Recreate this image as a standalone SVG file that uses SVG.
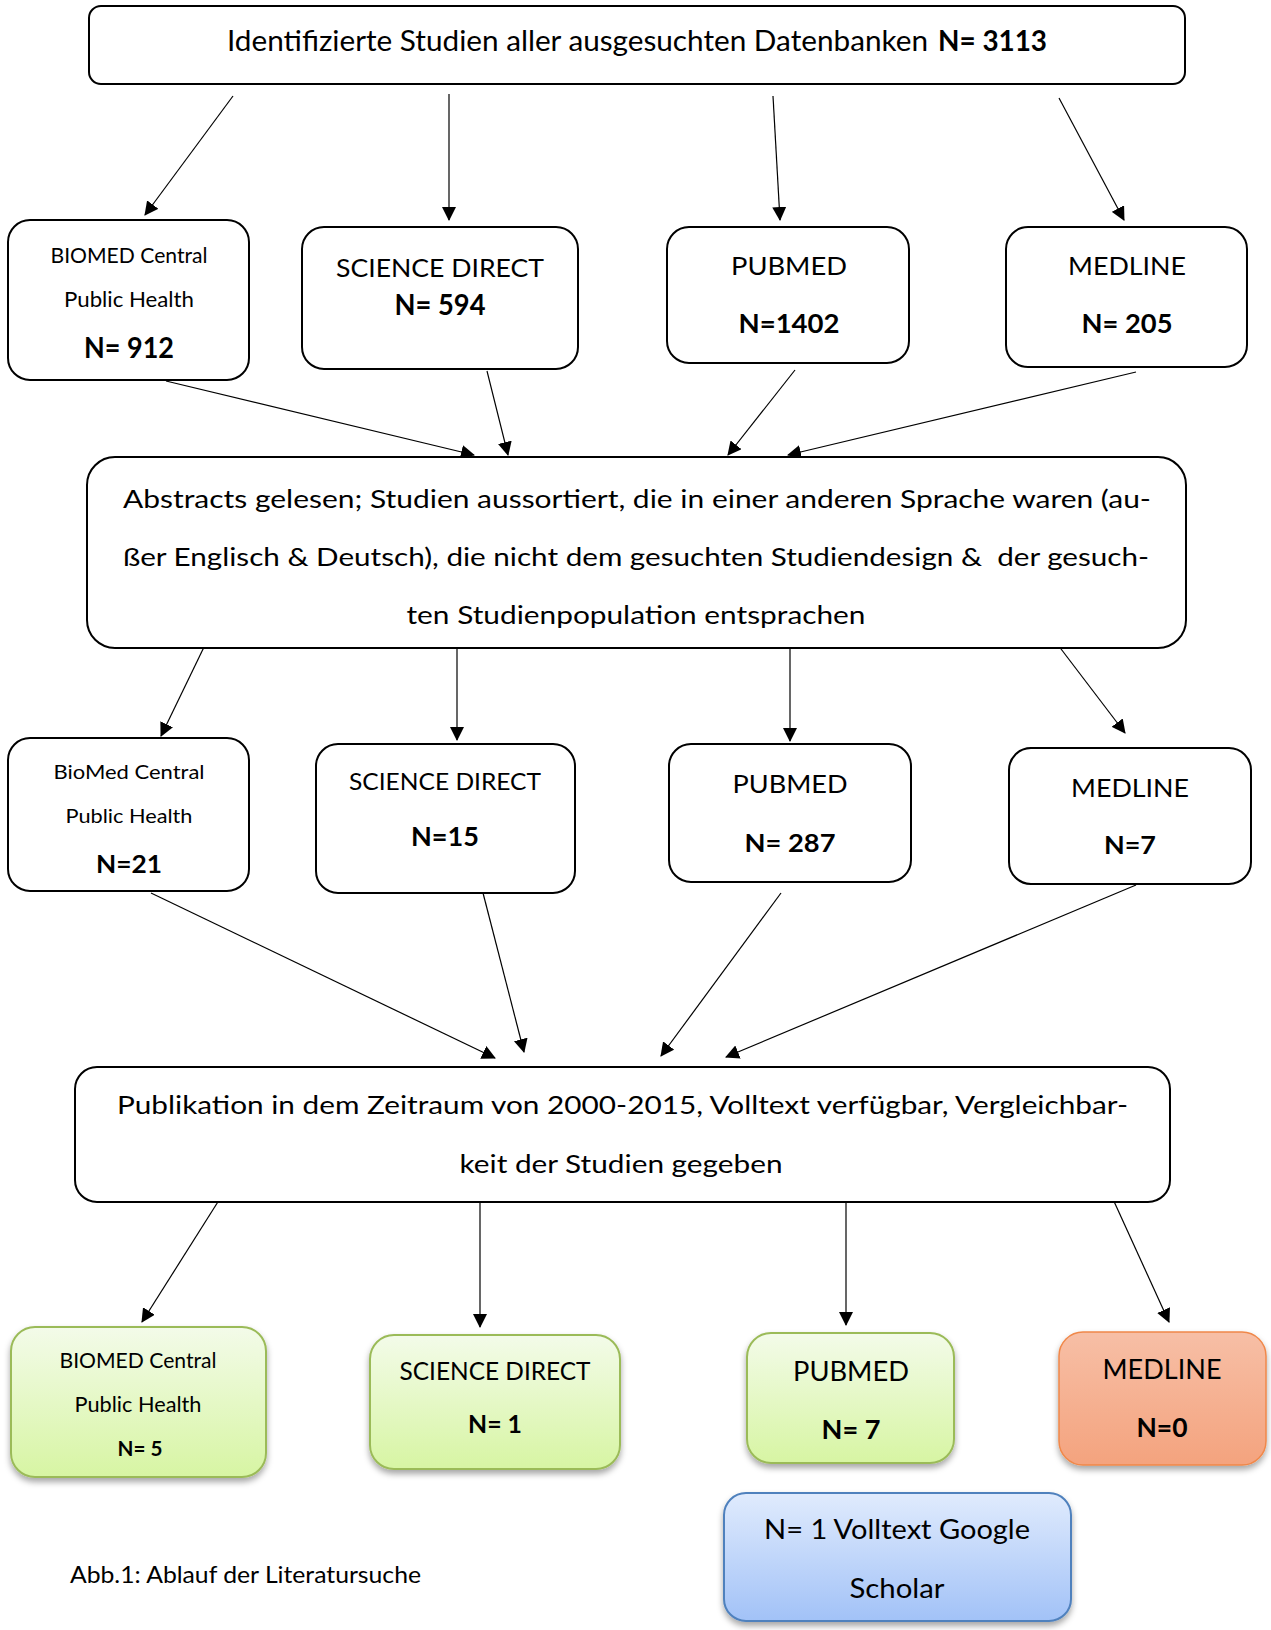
<svg xmlns="http://www.w3.org/2000/svg" width="1271" height="1630" viewBox="0 0 1271 1630">
<style>
text{font-family:Lato,"Liberation Sans",sans-serif;fill:#000;text-anchor:middle}
.b{font-weight:bold}
.l{text-anchor:start}
.pre{white-space:pre}
.box{fill:#fff;stroke:#000;stroke-width:2}
.con line{stroke:#000;stroke-width:1.2;marker-end:url(#ah)}
.g{fill:url(#gg);stroke:#9bbb59;stroke-width:2;filter:url(#sh)}
.o{fill:url(#go);stroke:#f0884a;stroke-width:1.5;filter:url(#sh)}
.bl{fill:url(#gb);stroke:#4f81bd;stroke-width:2;filter:url(#sh)}
</style>
<defs>
<marker id="ah" markerUnits="userSpaceOnUse" markerWidth="14" markerHeight="14" refX="13" refY="7" orient="auto"><path d="M0,0 L14,7 L0,14 z" fill="#000"/></marker>
<linearGradient id="gg" x1="0" y1="0" x2="0" y2="1"><stop offset="0" stop-color="#f3fbe9"/><stop offset="1" stop-color="#d7f5a3"/></linearGradient>
<linearGradient id="go" x1="0" y1="0" x2="0" y2="1"><stop offset="0" stop-color="#f7bfa6"/><stop offset="1" stop-color="#f4a37e"/></linearGradient>
<linearGradient id="gb" x1="0" y1="0" x2="0" y2="1"><stop offset="0" stop-color="#e0ebfd"/><stop offset="1" stop-color="#a2c2f7"/></linearGradient>
<filter id="sh" x="-10%" y="-10%" width="120%" height="130%"><feDropShadow dx="0" dy="4" stdDeviation="3" flood-color="#000" flood-opacity="0.35"/></filter>
</defs>
<rect width="1271" height="1630" fill="#fff"/>

<g id="connectors" class="con">
<line x1="233" y1="96" x2="145" y2="215"/>
<line x1="449" y1="94" x2="449" y2="220"/>
<line x1="773" y1="96" x2="780" y2="220"/>
<line x1="1059" y1="98" x2="1124" y2="220"/>
<line x1="166" y1="381" x2="474" y2="455"/>
<line x1="487" y1="371" x2="508" y2="455"/>
<line x1="795" y1="370" x2="728" y2="455"/>
<line x1="1136" y1="372" x2="788" y2="455"/>
<line x1="205" y1="645" x2="161" y2="736"/>
<line x1="457" y1="643" x2="457" y2="740"/>
<line x1="790" y1="644" x2="790" y2="741"/>
<line x1="1058" y1="645" x2="1125" y2="733"/>
<line x1="151" y1="893" x2="495" y2="1058"/>
<line x1="483" y1="893" x2="524" y2="1052"/>
<line x1="781" y1="893" x2="661" y2="1056"/>
<line x1="1136" y1="885" x2="726" y2="1057"/>
<line x1="221" y1="1197" x2="142" y2="1322"/>
<line x1="480" y1="1202" x2="480" y2="1327"/>
<line x1="846" y1="1197" x2="846" y2="1325"/>
<line x1="1112" y1="1197" x2="1169" y2="1322"/>
</g>

<g id="n-top">
<rect class="box" x="89" y="6" width="1096" height="78" rx="12"/>
<text class="l" x="227" y="51" font-size="28" textLength="701" lengthAdjust="spacingAndGlyphs">Identifizierte Studien aller ausgesuchten Datenbanken</text>
<text class="l b" x="938" y="51" font-size="28" textLength="109" lengthAdjust="spacingAndGlyphs">N= 3113</text>
</g>

<g id="n-biomed1">
<rect class="box" x="8" y="220" width="241" height="160" rx="22"/>
<text x="129" y="263" font-size="21" textLength="157" lengthAdjust="spacingAndGlyphs">BIOMED Central</text>
<text x="129" y="307" font-size="21" textLength="130" lengthAdjust="spacingAndGlyphs">Public Health</text>
<text class="b" x="129" y="358" font-size="28" textLength="90" lengthAdjust="spacingAndGlyphs">N= 912</text>
</g>
<g id="n-science1">
<rect class="box" x="302" y="227" width="276" height="142" rx="22"/>
<text x="440" y="277" font-size="25.5" textLength="208" lengthAdjust="spacingAndGlyphs">SCIENCE DIRECT</text>
<text class="b" x="440" y="315" font-size="28" textLength="91" lengthAdjust="spacingAndGlyphs">N= 594</text>
</g>
<g id="n-pubmed1">
<rect class="box" x="667" y="227" width="242" height="136" rx="22"/>
<text x="789" y="275" font-size="25.5" textLength="116" lengthAdjust="spacingAndGlyphs">PUBMED</text>
<text class="b" x="789" y="333" font-size="27" textLength="101" lengthAdjust="spacingAndGlyphs">N=1402</text>
</g>
<g id="n-medline1">
<rect class="box" x="1006" y="227" width="241" height="140" rx="22"/>
<text x="1127" y="275" font-size="25.5" textLength="118" lengthAdjust="spacingAndGlyphs">MEDLINE</text>
<text class="b" x="1127" y="333" font-size="27" textLength="91" lengthAdjust="spacingAndGlyphs">N= 205</text>
</g>

<g id="n-abstracts">
<rect class="box" x="87" y="457" width="1099" height="191" rx="28"/>
<text class="l" x="123" y="508" font-size="25" textLength="1028" lengthAdjust="spacingAndGlyphs">Abstracts gelesen; Studien aussortiert, die in einer anderen Sprache waren (au-</text>
<text class="l pre" x="123" y="566" font-size="25" textLength="1026" lengthAdjust="spacingAndGlyphs" xml:space="preserve">ßer Englisch &amp; Deutsch), die nicht dem gesuchten Studiendesign &amp;  der gesuch-</text>
<text x="636" y="624" font-size="25" textLength="459" lengthAdjust="spacingAndGlyphs">ten Studienpopulation entsprachen</text>
</g>

<g id="n-biomed2">
<rect class="box" x="8" y="738" width="241" height="153" rx="22"/>
<text x="129" y="779" font-size="20" textLength="151" lengthAdjust="spacingAndGlyphs">BioMed Central</text>
<text x="129" y="823" font-size="20" textLength="127" lengthAdjust="spacingAndGlyphs">Public Health</text>
<text class="b" x="129" y="873" font-size="25.5" textLength="66" lengthAdjust="spacingAndGlyphs">N=21</text>
</g>
<g id="n-science2">
<rect class="box" x="316" y="744" width="259" height="149" rx="22"/>
<text x="445" y="790" font-size="23" textLength="192" lengthAdjust="spacingAndGlyphs">SCIENCE DIRECT</text>
<text class="b" x="445" y="846" font-size="27" textLength="68" lengthAdjust="spacingAndGlyphs">N=15</text>
</g>
<g id="n-pubmed2">
<rect class="box" x="669" y="744" width="242" height="138" rx="22"/>
<text x="790" y="793" font-size="25.5" textLength="115" lengthAdjust="spacingAndGlyphs">PUBMED</text>
<text class="b" x="790" y="852" font-size="25.5" textLength="91" lengthAdjust="spacingAndGlyphs">N= 287</text>
</g>
<g id="n-medline2">
<rect class="box" x="1009" y="748" width="242" height="136" rx="22"/>
<text x="1130" y="797" font-size="25.5" textLength="118" lengthAdjust="spacingAndGlyphs">MEDLINE</text>
<text class="b" x="1130" y="854" font-size="25.5" textLength="52" lengthAdjust="spacingAndGlyphs">N=7</text>
</g>

<g id="n-publikation">
<rect class="box" x="75" y="1067" width="1095" height="135" rx="22"/>
<text class="l" x="117" y="1114" font-size="25" textLength="1011" lengthAdjust="spacingAndGlyphs">Publikation in dem Zeitraum von 2000-2015, Volltext verfügbar, Vergleichbar-</text>
<text x="621" y="1173" font-size="25" textLength="323" lengthAdjust="spacingAndGlyphs">keit der Studien gegeben</text>
</g>

<g id="n-biomed3">
<rect class="g" x="11" y="1327" width="255" height="150" rx="24"/>
<text x="138" y="1368" font-size="21" textLength="157" lengthAdjust="spacingAndGlyphs">BIOMED Central</text>
<text x="138" y="1412" font-size="21" textLength="127" lengthAdjust="spacingAndGlyphs">Public Health</text>
<text class="b" x="140" y="1456" font-size="21" textLength="45" lengthAdjust="spacingAndGlyphs">N= 5</text>
</g>
<g id="n-science3">
<rect class="g" x="370" y="1335" width="250" height="134" rx="24"/>
<text x="495" y="1380" font-size="25.5" textLength="191" lengthAdjust="spacingAndGlyphs">SCIENCE DIRECT</text>
<text class="b" x="495" y="1433" font-size="25.5" textLength="54" lengthAdjust="spacingAndGlyphs">N= 1</text>
</g>
<g id="n-pubmed3">
<rect class="g" x="747" y="1333" width="207" height="130" rx="24"/>
<text x="851" y="1381" font-size="26" textLength="116" lengthAdjust="spacingAndGlyphs">PUBMED</text>
<text class="b" x="851" y="1439" font-size="27" textLength="59" lengthAdjust="spacingAndGlyphs">N= 7</text>
</g>
<g id="n-medline3">
<rect class="o" x="1059" y="1332" width="207" height="133" rx="24"/>
<text x="1162" y="1379" font-size="27" textLength="119" lengthAdjust="spacingAndGlyphs">MEDLINE</text>
<text class="b" x="1162" y="1437" font-size="27" textLength="51" lengthAdjust="spacingAndGlyphs">N=0</text>
</g>
<g id="n-google">
<rect class="bl" x="724" y="1493" width="347" height="128" rx="22"/>
<text x="897" y="1539" font-size="27" textLength="266" lengthAdjust="spacingAndGlyphs">N= 1 Volltext Google</text>
<text x="897" y="1598" font-size="27" textLength="95" lengthAdjust="spacingAndGlyphs">Scholar</text>
</g>

<text class="l" x="70" y="1583" font-size="23" textLength="351" lengthAdjust="spacingAndGlyphs">Abb.1: Ablauf der Literatursuche</text>
</svg>
